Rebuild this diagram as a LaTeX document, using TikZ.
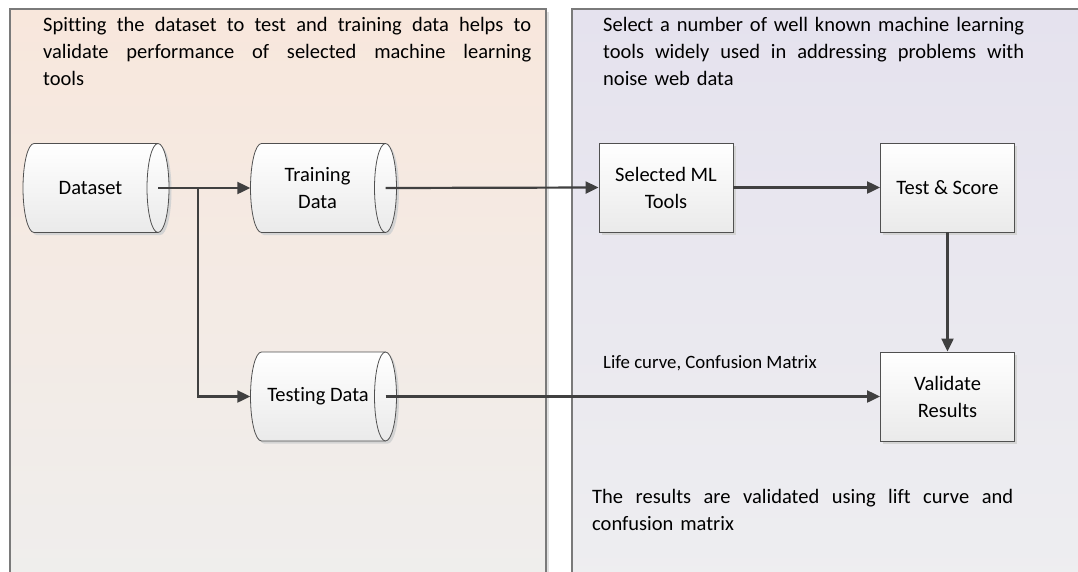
\documentclass[tikz,border=0pt]{standalone}
\usepackage{fontspec}
\setmainfont{Carlito}[Ligatures=NoCommon]
\usetikzlibrary{arrows.meta,shadows,calc}

\definecolor{peach}{HTML}{F8E7DC}
\definecolor{lavender}{HTML}{E5E2EE}
\definecolor{fadegrey}{HTML}{EFEEED}
\definecolor{fadegreyb}{HTML}{EEEEF0}
\definecolor{panelrule}{HTML}{7A7A7A}
\definecolor{edge}{HTML}{505050}
\definecolor{wire}{HTML}{404040}
\definecolor{boxlow}{HTML}{EAEAEA}
\definecolor{shadowgrey}{HTML}{D4D4D4}

\newcommand\boxfont{\fontsize{20.5pt}{27pt}\selectfont}
\newcommand\panelfont{\fontsize{20.5pt}{27pt}\selectfont}
\newcommand\notefont{\fontsize{18.8pt}{22pt}\selectfont}
% one justified line: interword spaces stretched to fill the given width
\newcommand\spreadline[2]{{\spaceskip=\fontdimen2\font plus 1fil\makebox[#1][s]{#2}}}

% horizontal data drum (cylinder) centred at (#1,#2), body 124 x 89
\newcommand\drumshape[2]{%
  \begin{scope}[shift={(#1,#2)}]
    \fill[shadowgrey] (-59.5,-42) -- (64.5,-42)
      arc[start angle=90,end angle=-90,x radius=11pt,y radius=44.5pt]
      -- (-59.5,47)
      arc[start angle=270,end angle=90,x radius=11pt,y radius=44.5pt] -- cycle;
    \shade[top color=white,bottom color=boxlow,draw=edge,line width=0.8pt]
      (-62,-44.5) -- (62,-44.5)
      arc[start angle=90,end angle=-90,x radius=11pt,y radius=44.5pt]
      -- (-62,44.5)
      arc[start angle=270,end angle=90,x radius=11pt,y radius=44.5pt] -- cycle;
    \draw[edge,line width=0.8pt] (62,-44.5)
      arc[start angle=90,end angle=270,x radius=11pt,y radius=44.5pt];
  \end{scope}}

\tikzset{
  procbox/.style={rectangle, draw=edge, line width=0.9pt, top color=white,
    bottom color=boxlow, minimum width=134pt, minimum height=89pt,
    inner sep=0pt, align=center, font=\boxfont,
    drop shadow={shadow xshift=2.5pt, shadow yshift=-2.5pt, fill=shadowgrey, opacity=1}},
  drumslot/.style={rectangle, minimum width=146pt, minimum height=89pt, inner sep=0pt},
  drumlabel/.style={align=center, font=\boxfont, inner sep=0pt},
  wirearrow/.style={draw=wire, line width=2.2pt, -{Triangle[length=13pt,width=12pt]}},
  paneltext/.style={anchor=base west, inner sep=0pt, font=\panelfont, align=left},
}

\begin{document}
\begin{tikzpicture}[x=1pt,y=-1pt]
\useasboundingbox (0,0) rectangle (1078,571);
\clip (0,0) rectangle (1078,571);
\fill[white] (0,0) rectangle (1078,571);

% left panel: data preparation
\fill[shadowgrey!70] (13,12) rectangle (549,590);
\shade[top color=peach,bottom color=fadegrey] (10,9) rectangle (546,590);
\draw[panelrule,line width=1.2pt] (10,590) -- (10,9) -- (546,9) -- (546,590);

% right panel: modelling and validation
\fill[shadowgrey!70] (575,12) rectangle (1095,590);
\shade[top color=lavender,bottom color=fadegreyb] (572,9) rectangle (1095,590);
\draw[panelrule,line width=1.2pt] (572,590) -- (572,9) -- (1095,9);

% panel notes
\node[paneltext, text width=488pt] (splitnote) at (43,31)
  {\spreadline{488pt}{Spitting the dataset to test and training data helps to}\\
   \spreadline{488pt}{validate performance of selected machine learning}\\
   tools};
\node[paneltext, text width=421pt] (toolnote) at (603,31)
  {\spreadline{421pt}{Select a number of well known machine learning}\\
   \spreadline{421pt}{tools widely used in addressing problems with}\\
   noise web data};
\node[paneltext, text width=421pt] (resultnote) at (592,503)
  {\spreadline{421pt}{The results are validated using lift curve and}\\
   confusion matrix};
\node[anchor=base west, inner sep=0pt, font=\notefont] (metricnote) at (603,368)
  {Life curve, Confusion Matrix};

% data stores
\drumshape{96}{188}
\drumshape{323.5}{188}
\drumshape{323.5}{396.5}
\node[drumslot] (data) at (96,188) {};
\node[drumslot] (train) at (323.5,188) {};
\node[drumslot] (test) at (323.5,396.5) {};
\node[drumlabel] (datatext) at (90.5,188) {Dataset};
\node[drumlabel] (traintext) at (317.5,188) {Training\\Data};
\node[drumlabel] (testtext) at (318,396.5) {Testing Data};

% process steps
\node[procbox] (mltools) at (666,187.5) {Selected ML\\Tools};
\node[procbox] (score) at (947.5,187.5) {Test \& Score};
\node[procbox] (validate) at (947.5,396.5) {Validate\\Results};

% flow
\coordinate (fork) at (198,188);
\draw[wirearrow] ([xshift=-11pt]data.east) -- (train.west);
\draw[wirearrow] (fork) |- (test.west);
\draw[wirearrow] ([xshift=-11pt]train.east) -- (mltools.west);
\draw[wirearrow] (mltools.east) -- (score.west);
\draw[wirearrow] (score.south) -- (validate.north);
\draw[wirearrow] ([xshift=-11pt]test.east) -- (validate.west);
\end{tikzpicture}
\end{document}
